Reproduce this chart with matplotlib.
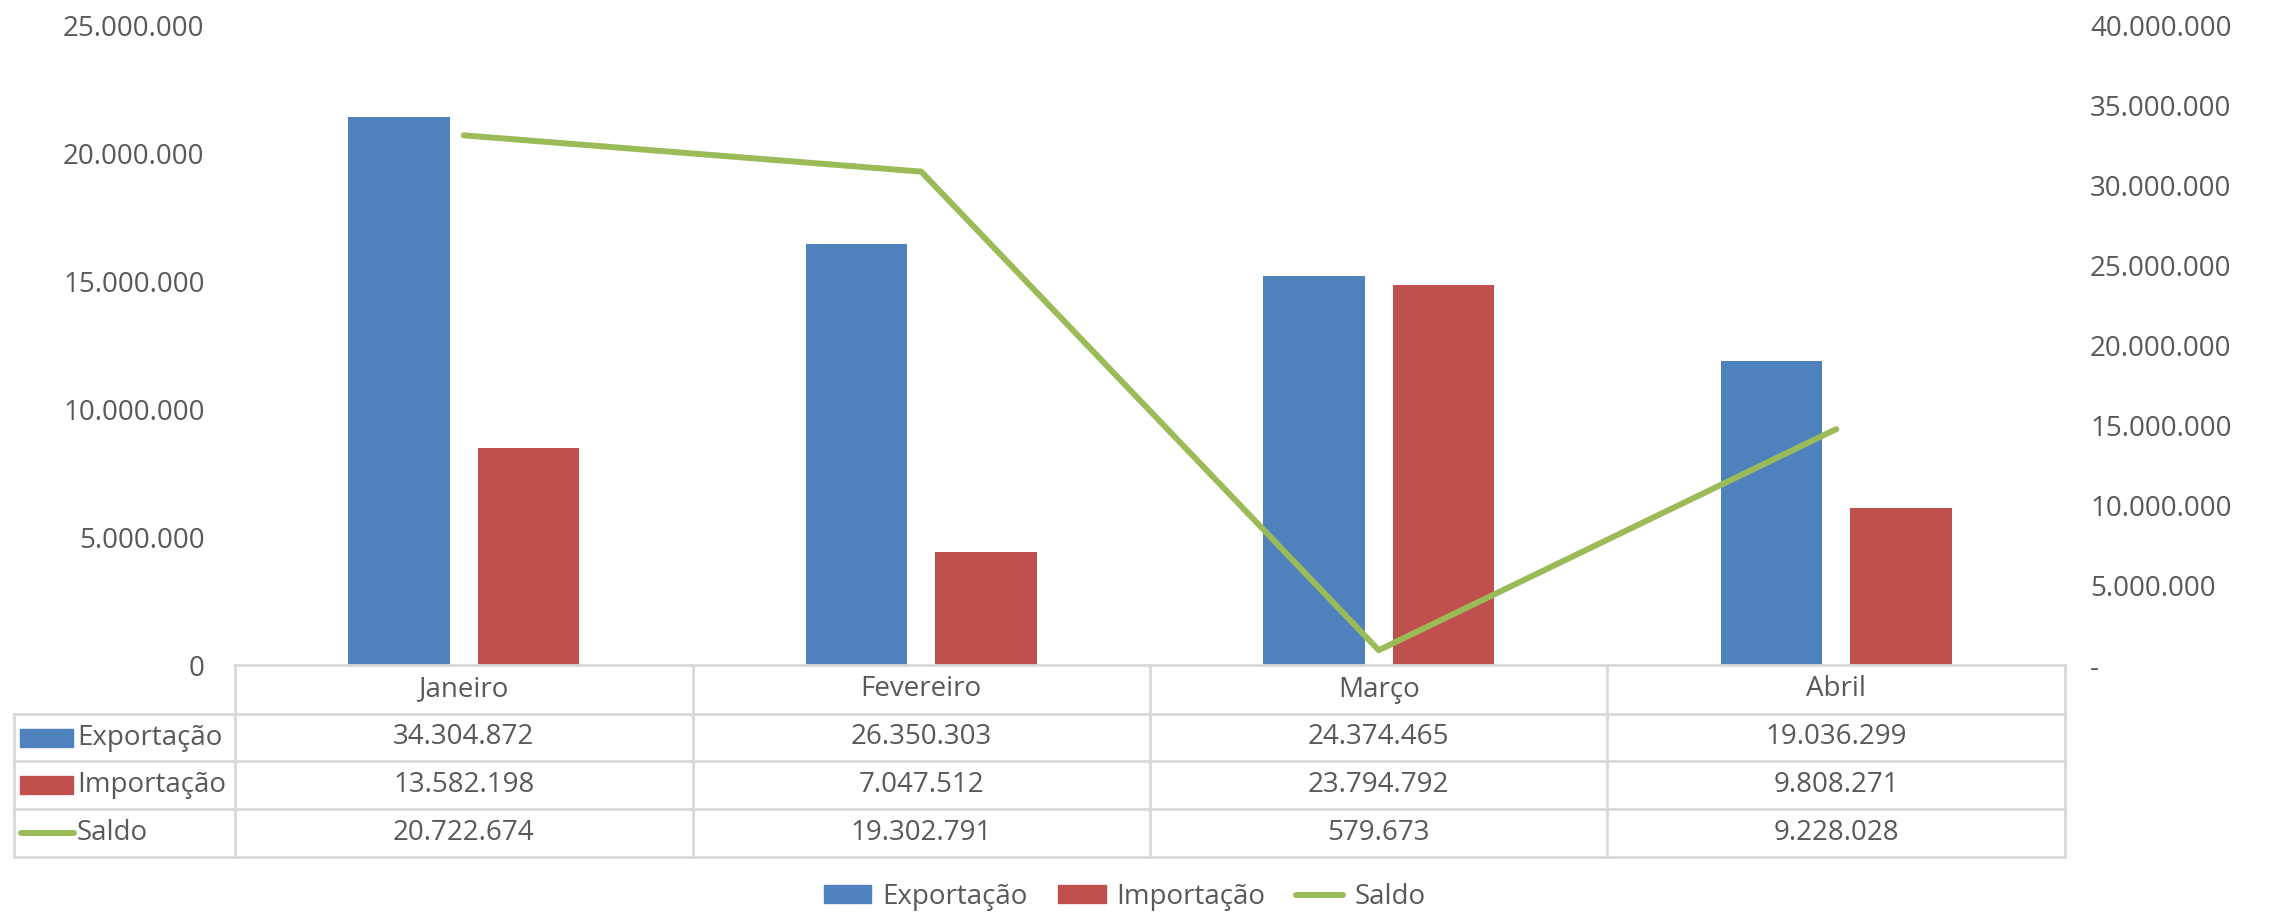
import numpy as np
import matplotlib.pyplot as plt
from matplotlib.lines import Line2D
from matplotlib.patches import Rectangle

meses = ['Janeiro', 'Fevereiro', 'Março', 'Abril']
exportacao = [34304872, 26350303, 24374465, 19036299]
importacao = [13582198, 7047512, 23794792, 9808271]
saldo = [20722674, 19302791, 579673, 9228028]

blue = '#4F81BD'
red = '#C0504D'
green = '#9BBB59'
txt = '#595959'
grid = '#D9D9D9'

font = ['Open Sans', 'DejaVu Sans']

W, H = 2277, 916
fig = plt.figure(figsize=(W / 100, H / 100), dpi=100)

# pixel layout (from the top-left corner)
x_left, x_right = 235, 2065
y_top, y_zero = 26, 665
ax = fig.add_axes([x_left / W, 1 - y_zero / H, (x_right - x_left) / W, (y_zero - y_top) / H])
ax2 = ax.twinx()

def fmt(v):
    return '{:,}'.format(int(v)).replace(',', '.')

x = np.arange(len(meses))
bw = 0.222
ax2.bar(x - 0.142, exportacao, bw, color=blue)
ax2.bar(x + 0.142, importacao, bw, color=red)
ax.plot(x, saldo, color=green, lw=4.3, solid_capstyle='round')

# line (left scale) drawn over the bars (right scale)
ax.set_zorder(ax2.get_zorder() + 1)
ax.patch.set_visible(False)

ax.set_xlim(-0.5, 3.5)
ax.set_ylim(0, 25000000)
ax2.set_ylim(0, 40000000)
ax.set_yticks(np.arange(0, 25000001, 5000000))
ax2.set_yticks(np.arange(0, 40000001, 5000000))
ax.set_yticklabels([fmt(v) for v in ax.get_yticks()])
ax2.set_yticklabels(['-' if v == 0 else fmt(v) for v in ax2.get_yticks()])
ax.set_xticks([])
for a in (ax, ax2):
    for s in a.spines.values():
        s.set_visible(False)
ax.tick_params(axis='y', length=0, pad=22, labelsize=20, labelcolor=txt)
ax2.tick_params(axis='y', length=0, pad=18, labelsize=20, labelcolor=txt)
for lab in ax.get_yticklabels() + ax2.get_yticklabels():
    lab.set_family(font)

# data table
rows_y = [665, 714, 761, 809, 857]
col_w = (x_right - x_left) / 4
tab_left = 14

def fx(px):
    return px / W

def fy(py):
    return 1 - py / H

def hline(x0, x1, y):
    fig.add_artist(Line2D([fx(x0), fx(x1)], [fy(y), fy(y)], color=grid, lw=2))

def vline(xp, y0, y1):
    fig.add_artist(Line2D([fx(xp), fx(xp)], [fy(y0), fy(y1)], color=grid, lw=2))

hline(x_left, x_right, rows_y[0])
for y in rows_y[1:]:
    hline(tab_left, x_right, y)
vline(tab_left, rows_y[1], rows_y[-1])
for k in range(5):
    vline(x_left + k * col_w, rows_y[0], rows_y[-1])

for k, m in enumerate(meses):
    cx = x_left + (k + 0.5) * col_w
    fig.text(fx(cx), fy((rows_y[0] + rows_y[1]) / 2), m, ha='center', va='center',
             fontsize=20, color=txt, family=font)

series = [('Exportação', exportacao, 'bar', blue),
          ('Importação', importacao, 'bar', red),
          ('Saldo', saldo, 'line', green)]
for r, (name, vals, kind, col) in enumerate(series):
    yc = (rows_y[r + 1] + rows_y[r + 2]) / 2
    if kind == 'bar':
        fig.add_artist(Rectangle((fx(20), fy(yc + 9)), fx(73) - fx(20), 18 / H, color=col))
    else:
        fig.add_artist(Line2D([fx(21), fx(74)], [fy(yc), fy(yc)], color=col, lw=4.3,
                              solid_capstyle='round'))
    fig.text(fx(77), fy(yc), name, ha='left', va='center', fontsize=20, color=txt, family=font)
    for k, v in enumerate(vals):
        cx = x_left + (k + 0.5) * col_w
        fig.text(fx(cx), fy(yc), fmt(v), ha='center', va='center', fontsize=20, color=txt,
                 family=font)

# legend
handles = [Rectangle((0, 0), 1, 1, color=blue), Rectangle((0, 0), 1, 1, color=red),
           Line2D([0], [0], color=green, lw=4.3, solid_capstyle='round')]
leg = fig.legend(handles, ['Exportação', 'Importação', 'Saldo'], loc='center',
                 bbox_to_anchor=(0.494, fy(897)), ncol=3, frameon=False,
                 handlelength=1.7, handleheight=0.6, handletextpad=0.4, columnspacing=1.1,
                 prop={'family': font, 'size': 20})
for t in leg.get_texts():
    t.set_color(txt)

fig.savefig('out.png', dpi=100)
